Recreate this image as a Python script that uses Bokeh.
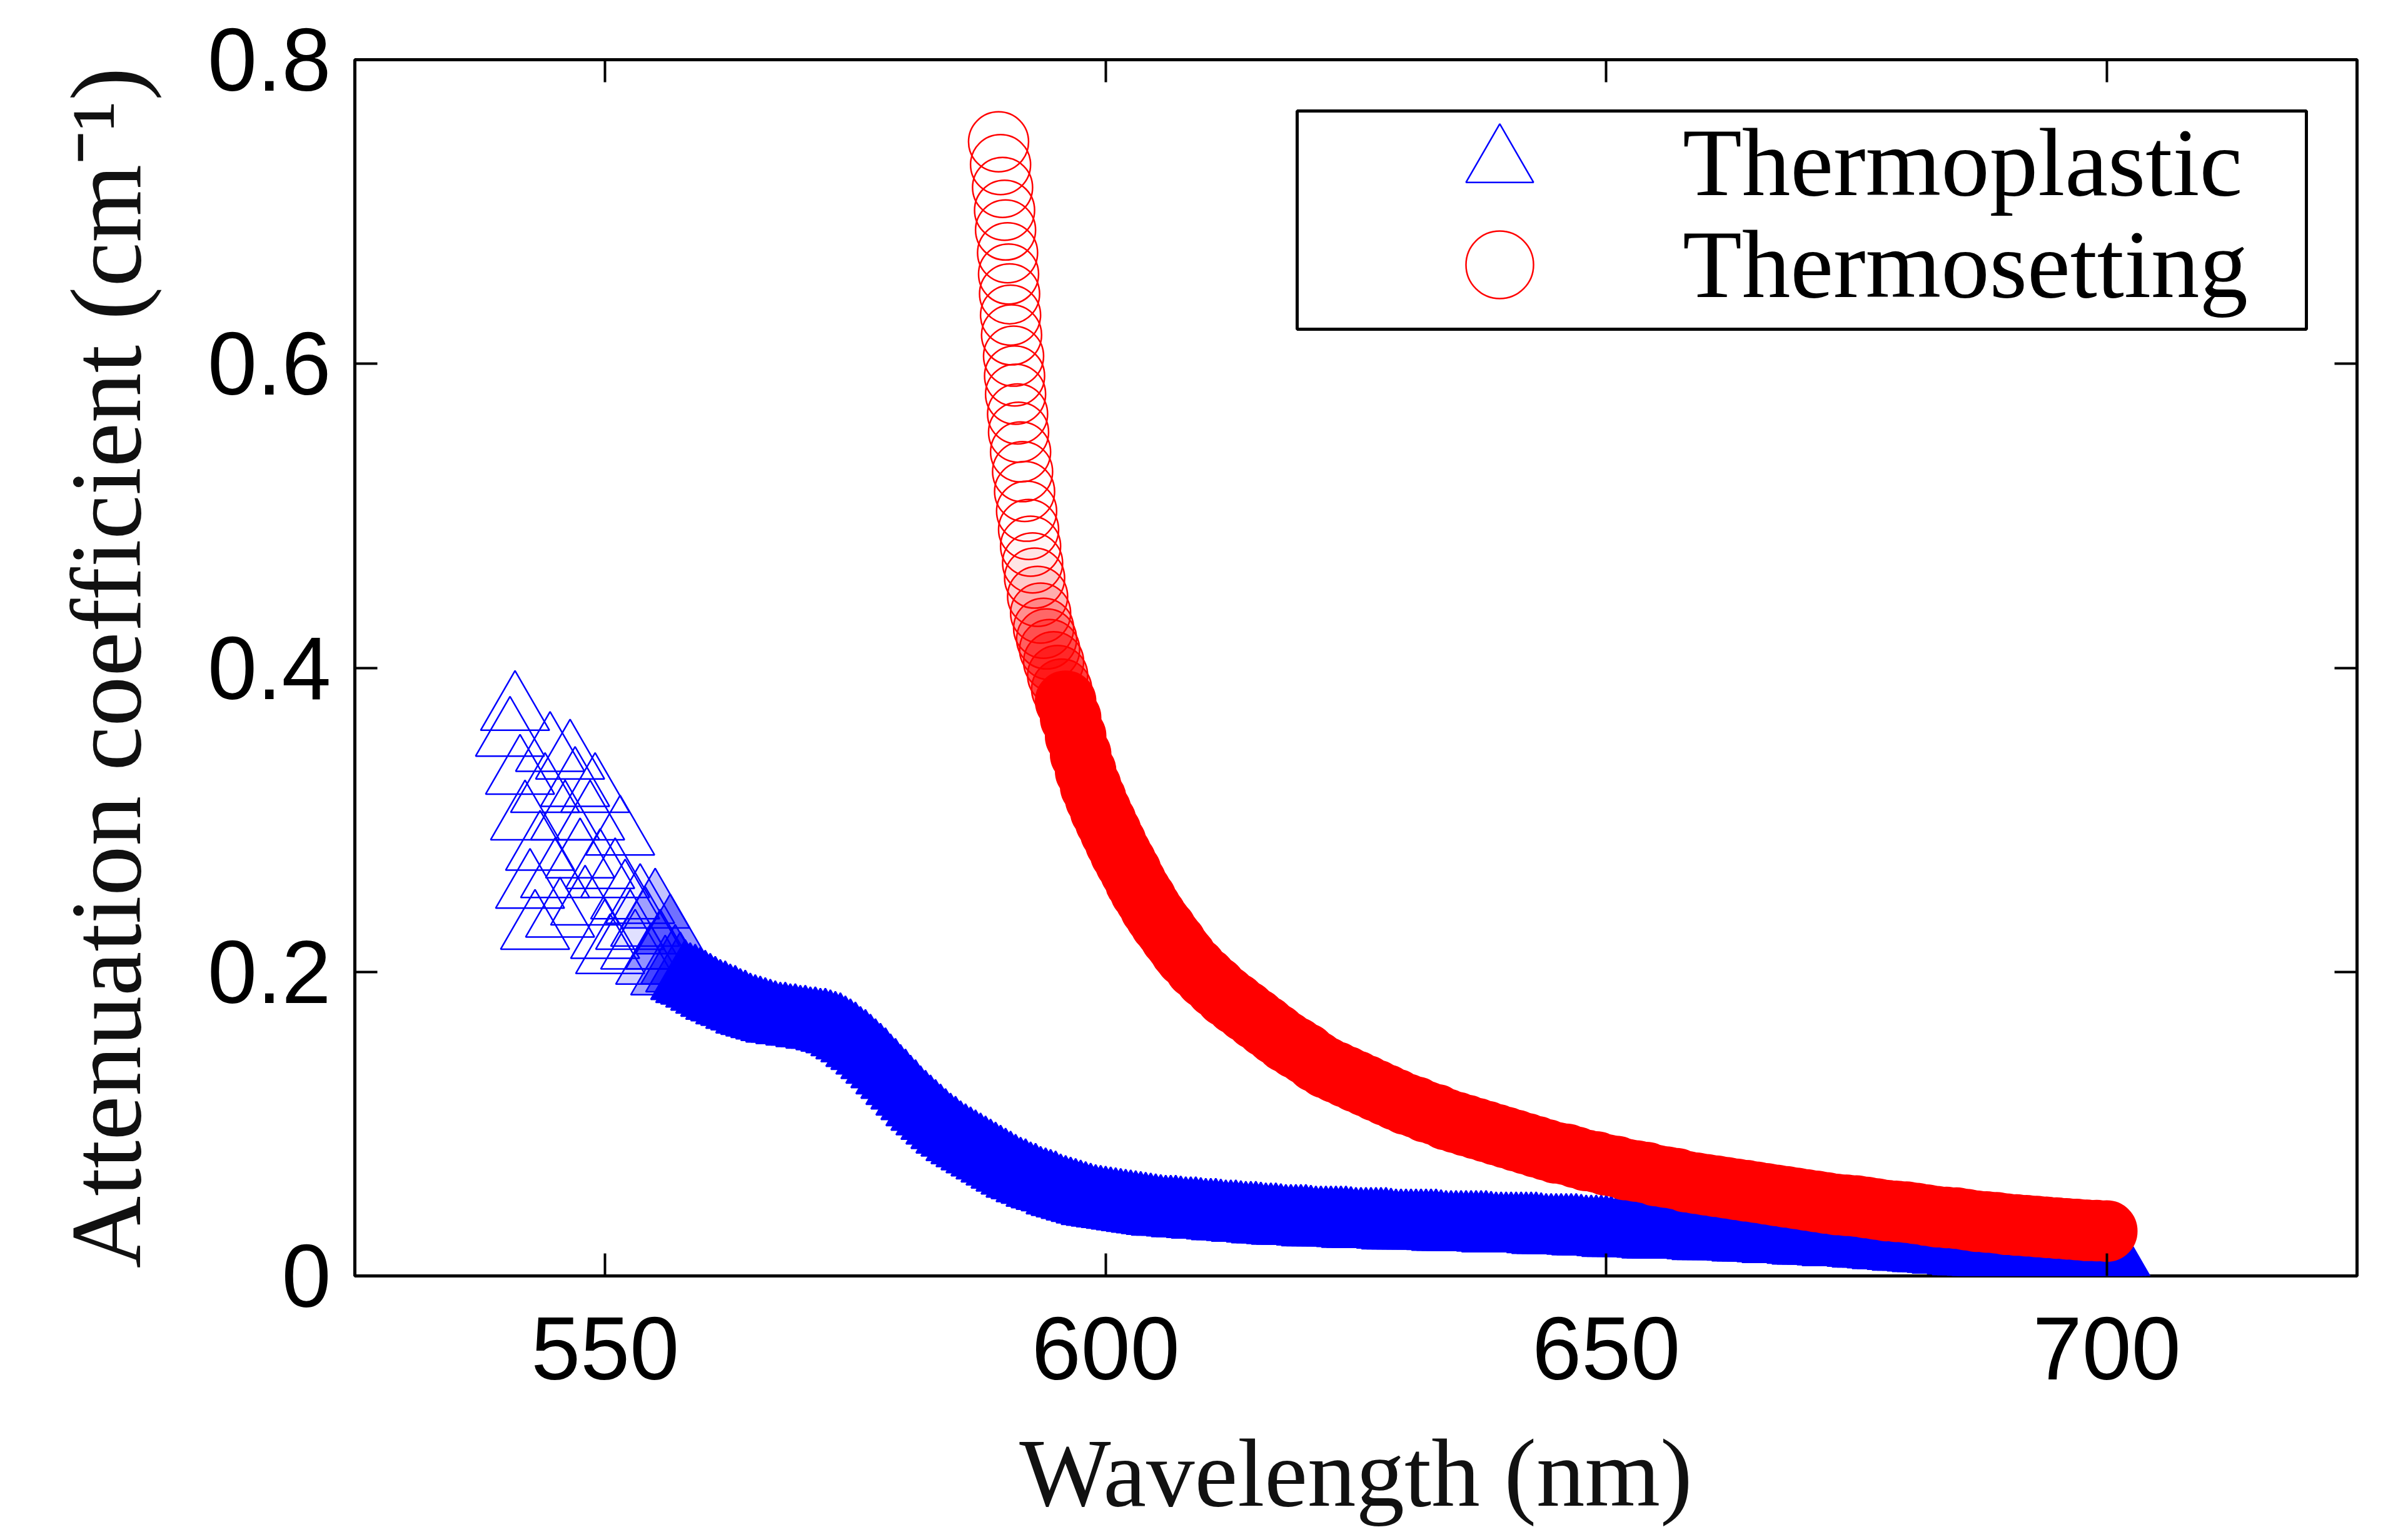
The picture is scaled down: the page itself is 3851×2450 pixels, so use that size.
from bokeh.plotting import figure
from bokeh.models import (Range1d, FixedTicker, LinearAxis, Legend, LegendItem,
                          BoxAnnotation, ColumnDataSource)
from bokeh.embed import file_html
from bokeh.resources import INLINE

# ---------------- data ----------------
thermoplastic_wavelength = [
    540.5, 541.0, 541.5, 542.0, 542.5, 543.0, 543.5, 544.0, 544.5, 545.0,
    545.5, 546.0, 546.5, 547.0, 547.5, 548.0, 548.5, 549.0, 549.5, 550.0,
    550.5, 551.0, 551.5, 552.0, 552.5, 553.0, 553.5, 554.0, 554.5, 555.0,
    555.5, 556.0, 556.5, 557.0,
    557.5, 558.0, 558.5, 559.0, 559.5, 560.0, 560.5, 561.0, 561.5, 562.0,
    562.5, 563.0, 563.5, 564.0, 564.5, 565.0, 565.5, 566.0, 566.5, 567.0,
    567.5, 568.0, 568.5, 569.0, 569.5, 570.0, 570.5, 571.0, 571.5, 572.0,
    572.5, 573.0, 573.5, 574.0, 574.5, 575.0, 575.5, 576.0, 576.5, 577.0,
    577.5, 578.0, 578.5, 579.0, 579.5, 580.0, 580.5, 581.0, 581.5, 582.0,
    582.5, 583.0, 583.5, 584.0, 584.5, 585.0, 585.5, 586.0, 586.5, 587.0,
    587.5, 588.0, 588.5, 589.0, 589.5, 590.0, 590.5, 591.0, 591.5, 592.0,
    592.5, 593.0, 593.5, 594.0, 594.5, 595.0, 595.5, 596.0, 596.5, 597.0,
    597.5, 598.0, 598.5, 599.0, 599.5, 600.0, 600.5, 601.0, 601.5, 602.0,
    602.5, 603.0, 603.5, 604.0, 604.5, 605.0, 605.5, 606.0, 606.5, 607.0,
    607.5, 608.0, 608.5, 609.0, 609.5, 610.0, 610.5, 611.0, 611.5, 612.0,
    612.5, 613.0, 613.5, 614.0, 614.5, 615.0, 615.5, 616.0, 616.5, 617.0,
    617.5, 618.0, 618.5, 619.0, 619.5, 620.0, 620.5, 621.0, 621.5, 622.0,
    622.5, 623.0, 623.5, 624.0, 624.5, 625.0, 625.5, 626.0, 626.5, 627.0,
    627.5, 628.0, 628.5, 629.0, 629.5, 630.0, 630.5, 631.0, 631.5, 632.0,
    632.5, 633.0, 633.5, 634.0, 634.5, 635.0, 635.5, 636.0, 636.5, 637.0,
    637.5, 638.0, 638.5, 639.0, 639.5, 640.0, 640.5, 641.0, 641.5, 642.0,
    642.5, 643.0, 643.5, 644.0, 644.5, 645.0, 645.5, 646.0, 646.5, 647.0,
    647.5, 648.0, 648.5, 649.0, 649.5, 650.0, 650.5, 651.0, 651.5, 652.0,
    652.5, 653.0, 653.5, 654.0, 654.5, 655.0, 655.5, 656.0, 656.5, 657.0,
    657.5, 658.0, 658.5, 659.0, 659.5, 660.0, 660.5, 661.0, 661.5, 662.0,
    662.5, 663.0, 663.5, 664.0, 664.5, 665.0, 665.5, 666.0, 666.5, 667.0,
    667.5, 668.0, 668.5, 669.0, 669.5, 670.0, 670.5, 671.0, 671.5, 672.0,
    672.5, 673.0, 673.5, 674.0, 674.5, 675.0, 675.5, 676.0, 676.5, 677.0,
    677.5, 678.0, 678.5, 679.0, 679.5, 680.0, 680.5, 681.0, 681.5, 682.0,
    682.5, 683.0, 683.5, 684.0, 684.5, 685.0, 685.5, 686.0, 686.5, 687.0,
    687.5, 688.0, 688.5, 689.0, 689.5, 690.0, 690.5, 691.0, 691.5, 692.0,
    692.5, 693.0, 693.5, 694.0, 694.5, 695.0, 695.5, 696.0, 696.5, 697.0,
    697.5, 698.0, 698.5, 699.0, 699.5, 700.0, 700.5, 701.0, 701.5, 702.0,
]
thermoplastic_attenuation = [
    0.355, 0.372, 0.330, 0.300, 0.255, 0.228, 0.280, 0.318, 0.345, 0.262,
    0.236, 0.300, 0.340, 0.322, 0.275, 0.244, 0.300, 0.318, 0.268, 0.222,
    0.212, 0.262, 0.290, 0.248, 0.228, 0.215, 0.245, 0.230, 0.205, 0.242,
    0.215, 0.198, 0.225, 0.205,
    0.200, 0.195, 0.193, 0.192, 0.190, 0.188, 0.186, 0.184, 0.182, 0.181,
    0.179, 0.178, 0.176, 0.175, 0.173, 0.172, 0.171, 0.170, 0.169, 0.168,
    0.167, 0.167, 0.166, 0.166, 0.165, 0.165, 0.164, 0.164, 0.163, 0.163,
    0.162, 0.161, 0.160, 0.158, 0.156, 0.154, 0.151, 0.149, 0.146, 0.143,
    0.140, 0.137, 0.133, 0.130, 0.126, 0.123, 0.119, 0.116, 0.112, 0.109,
    0.106, 0.103, 0.100, 0.097, 0.094, 0.092, 0.089, 0.087, 0.085, 0.083,
    0.081, 0.079, 0.077, 0.075, 0.073, 0.071, 0.069, 0.067, 0.065, 0.064,
    0.062, 0.061, 0.059, 0.058, 0.057, 0.056, 0.054, 0.053, 0.052, 0.051,
    0.050, 0.049, 0.048, 0.047, 0.0465, 0.046, 0.0455, 0.045, 0.0445, 0.044,
    0.0435, 0.043, 0.0425, 0.042, 0.0415, 0.041, 0.0405, 0.040, 0.040, 0.040,
    0.0395, 0.039, 0.039, 0.039, 0.0385, 0.038, 0.038, 0.038, 0.0375, 0.037,
    0.037, 0.037, 0.0365, 0.036, 0.036, 0.036, 0.0355, 0.035, 0.035, 0.035,
    0.0345, 0.034, 0.034, 0.034, 0.034, 0.034, 0.0335, 0.033, 0.033, 0.033,
    0.033, 0.033, 0.033, 0.033, 0.0325, 0.032, 0.032, 0.032, 0.032, 0.032,
    0.032, 0.032, 0.0315, 0.031, 0.031, 0.031, 0.031, 0.031, 0.031, 0.031,
    0.031, 0.031, 0.0305, 0.030, 0.030, 0.030, 0.030, 0.030, 0.030, 0.030,
    0.030, 0.030, 0.0295, 0.029, 0.029, 0.029, 0.029, 0.029, 0.029, 0.029,
    0.029, 0.029, 0.0285, 0.028, 0.028, 0.028, 0.028, 0.028, 0.028, 0.028,
    0.0275, 0.027, 0.027, 0.027, 0.027, 0.027, 0.0265, 0.026, 0.026, 0.026,
    0.026, 0.026, 0.026, 0.026, 0.0255, 0.025, 0.025, 0.025, 0.025, 0.025,
    0.025, 0.025, 0.025, 0.025, 0.0245, 0.024, 0.024, 0.024, 0.024, 0.024,
    0.024, 0.024, 0.0235, 0.023, 0.023, 0.023, 0.023, 0.023, 0.0225, 0.022,
    0.022, 0.022, 0.022, 0.022, 0.0215, 0.021, 0.021, 0.021, 0.021, 0.021,
    0.0205, 0.020, 0.020, 0.020, 0.020, 0.020, 0.0195, 0.019, 0.019, 0.019,
    0.0185, 0.018, 0.018, 0.018, 0.0175, 0.017, 0.017, 0.017, 0.0165, 0.016,
    0.016, 0.016, 0.0155, 0.015, 0.015, 0.015, 0.0145, 0.014, 0.014, 0.014,
    0.0135, 0.013, 0.0125, 0.012, 0.012, 0.012, 0.0115, 0.011, 0.0105, 0.010,
    0.010, 0.010, 0.0095, 0.009, 0.0085, 0.008, 0.0075, 0.007, 0.0065, 0.006,
    0.0055, 0.005, 0.0045, 0.004, 0.0035, 0.003, 0.0025, 0.002, 0.001, 0.000,
]

thermosetting_wavelength = [
    589.3, 589.5, 589.7, 589.9, 590.0, 590.2, 590.3, 590.4, 590.5, 590.6,
    590.8, 590.9, 591.0, 591.2, 591.3, 591.5, 591.7, 591.9, 592.1, 592.3,
    592.5, 592.7, 592.9, 593.2, 593.5, 593.8, 594.1, 594.4, 594.8, 595.2,
    595.6, 596.0, 596.5, 597.0, 597.5, 598.0, 598.5, 599.0, 599.5, 600.0,
    600.5, 601.0, 601.5, 602.0, 602.5, 603.0, 603.5, 604.0, 604.5, 605.0,
    605.5, 606.0, 606.5, 607.0, 607.5, 608.0,
    609, 610, 611, 612, 613, 614, 615, 616, 617, 618, 619, 620, 621, 622,
    623, 624, 625, 626, 627, 628, 629, 630, 631, 632, 633, 634, 635, 636,
    637, 638, 639, 640, 641, 642, 643, 644, 645, 646, 647, 648, 649, 650,
    651, 652, 653, 654, 655, 656, 657, 658, 659, 660, 661, 662, 663, 664,
    665, 666, 667, 668, 669, 670, 671, 672, 673, 674, 675, 676, 677, 678,
    679, 680, 681, 682, 683, 684, 685, 686, 687, 688, 689, 690, 691, 692,
    693, 694, 695, 696, 697, 698, 699, 700,
]
thermosetting_attenuation = [
    0.746, 0.731, 0.716, 0.701, 0.688, 0.673, 0.659, 0.646, 0.632, 0.619,
    0.605, 0.592, 0.580, 0.567, 0.555, 0.542, 0.529, 0.516, 0.503, 0.491,
    0.480, 0.469, 0.459, 0.447, 0.436, 0.426, 0.419, 0.412, 0.404, 0.395,
    0.386, 0.378, 0.367, 0.355, 0.343, 0.332, 0.322, 0.314, 0.306, 0.299,
    0.292, 0.285, 0.278, 0.272, 0.266, 0.259, 0.253, 0.248, 0.242, 0.237,
    0.232, 0.228, 0.223, 0.219, 0.214, 0.210,
    0.2025, 0.196, 0.190, 0.184, 0.179, 0.174, 0.169, 0.164, 0.159, 0.154,
    0.150, 0.146, 0.141, 0.137, 0.134, 0.131, 0.128, 0.125, 0.122, 0.119,
    0.116, 0.113, 0.111, 0.108, 0.106, 0.103, 0.101, 0.099, 0.097, 0.095,
    0.093, 0.091, 0.089, 0.087, 0.085, 0.083, 0.081, 0.080, 0.078, 0.076,
    0.075, 0.073, 0.072, 0.070, 0.069, 0.068, 0.066, 0.065, 0.064, 0.062,
    0.061, 0.060, 0.059, 0.058, 0.057, 0.056, 0.055, 0.054, 0.053, 0.052,
    0.051, 0.050, 0.049, 0.048, 0.047, 0.0465, 0.046, 0.045, 0.044, 0.043,
    0.0425, 0.042, 0.041, 0.040, 0.039, 0.0385, 0.038, 0.037, 0.036, 0.0355,
    0.035, 0.034, 0.0335, 0.033, 0.0325, 0.032, 0.0315, 0.031, 0.0305, 0.030,
    0.0298, 0.0295,
]

x_ticks = [550, 600, 650, 700]
y_ticks = [0, 0.2, 0.4, 0.6, 0.8]
y_tick_labels = ["0", "0.2", "0.4", "0.6", "0.8"]
series_names = ["Thermoplastic", "Thermosetting"]

# ---------------- style ----------------
SANS = "Liberation Sans"
SERIF = "Liberation Serif"
BLUE = "#0000ff"
RED = "#ff0000"
# where the overlapping open symbols of the reference merge into a solid band
BLUE_FADE = (553.0, 558.0)
RED_FADE = (592.5, 596.0)

def fill_alpha_for(wavelengths, fade):
    a, b = fade
    return [0.0 if w <= a else 1.0 if w >= b else (w - a) / (b - a) * 0.6
            for w in wavelengths]

p = figure(
    frame_width=3202, frame_height=1945,
    x_range=Range1d(525, 725), y_range=Range1d(0, 0.8),
    output_backend="svg", toolbar_location=None,
    min_border_left=567, min_border_right=69,
    min_border_top=95, min_border_bottom=398,
    background_fill_color="white", border_fill_color="white",
)
p.outline_line_color = "black"
p.outline_line_width = 5
p.grid.visible = False

xa = p.xaxis[0]
xa.ticker = FixedTicker(ticks=x_ticks)
xa.axis_label = "Wavelength (nm)"
ya = p.yaxis[0]
ya.ticker = FixedTicker(ticks=y_ticks)
ya.major_label_overrides = {t: s for t, s in zip(y_ticks, y_tick_labels)}
ya.axis_label = "Attenuation coefficient (cm\u207b\u00b9)"

for ax in (xa, ya):
    ax.axis_line_color = None
    ax.major_tick_in = 36
    ax.major_tick_out = 0
    ax.major_tick_line_width = 4
    ax.major_tick_line_color = "black"
    ax.minor_tick_line_color = None
    ax.major_label_text_font = SANS
    ax.major_label_text_font_size = "142px"
    ax.major_label_text_color = "black"
    ax.axis_label_text_font = SERIF
    ax.axis_label_text_font_style = "normal"
    ax.axis_label_text_color = "#111111"

xa.axis_label_text_font_size = "155px"
ya.axis_label_text_font_size = "160px"
xa.major_label_standoff = 66
xa.axis_label_standoff = 61
ya.major_label_standoff = 38
ya.axis_label_standoff = 70

top = LinearAxis(ticker=FixedTicker(ticks=x_ticks))
right = LinearAxis(ticker=FixedTicker(ticks=y_ticks))
for ax in (top, right):
    ax.axis_line_color = None
    ax.major_tick_in = 36
    ax.major_tick_out = 0
    ax.major_tick_line_width = 4
    ax.major_tick_line_color = "black"
    ax.minor_tick_line_color = None
    ax.major_label_text_color = None
    ax.major_label_text_font_size = "1px"
    ax.major_label_standoff = 0
p.add_layout(top, "above")
p.add_layout(right, "right")

blue_src = ColumnDataSource(dict(
    x=thermoplastic_wavelength, y=thermoplastic_attenuation,
    fa=fill_alpha_for(thermoplastic_wavelength, BLUE_FADE)))
red_src = ColumnDataSource(dict(
    x=thermosetting_wavelength, y=thermosetting_attenuation,
    fa=fill_alpha_for(thermosetting_wavelength, RED_FADE)))

r_blue = p.scatter("x", "y", source=blue_src, marker="triangle", size=110,
                   fill_color=BLUE, fill_alpha="fa",
                   line_color=BLUE, line_width=2.5)
r_red = p.scatter("x", "y", source=red_src, marker="circle", size=96,
                  fill_color=RED, fill_alpha="fa",
                  line_color=RED, line_width=2.5)

# legend frame (screen units, relative to the plot frame)
p.add_layout(BoxAnnotation(
    left=1507, right=3121, bottom=1514, top=1863,
    left_units="screen", right_units="screen",
    bottom_units="screen", top_units="screen",
    fill_color="white", fill_alpha=1.0,
    line_color="black", line_width=5, line_alpha=1.0,
))

def legend_row(renderer, label, loc):
    return Legend(
        items=[LegendItem(label=label, renderers=[renderer], index=0)],
        location=loc, glyph_width=270, glyph_height=270,
        spacing=0, label_standoff=158, padding=0, margin=0,
        border_line_color=None, background_fill_alpha=0.0,
        label_text_font=SERIF, label_text_font_size="155px",
        label_text_color="black",
    )

p.add_layout(legend_row(r_blue, series_names[0], (1696, 1645)), "center")
p.add_layout(legend_row(r_red, series_names[1], (1696, 1482)), "center")

open("out.html", "w").write(file_html(p, INLINE))
